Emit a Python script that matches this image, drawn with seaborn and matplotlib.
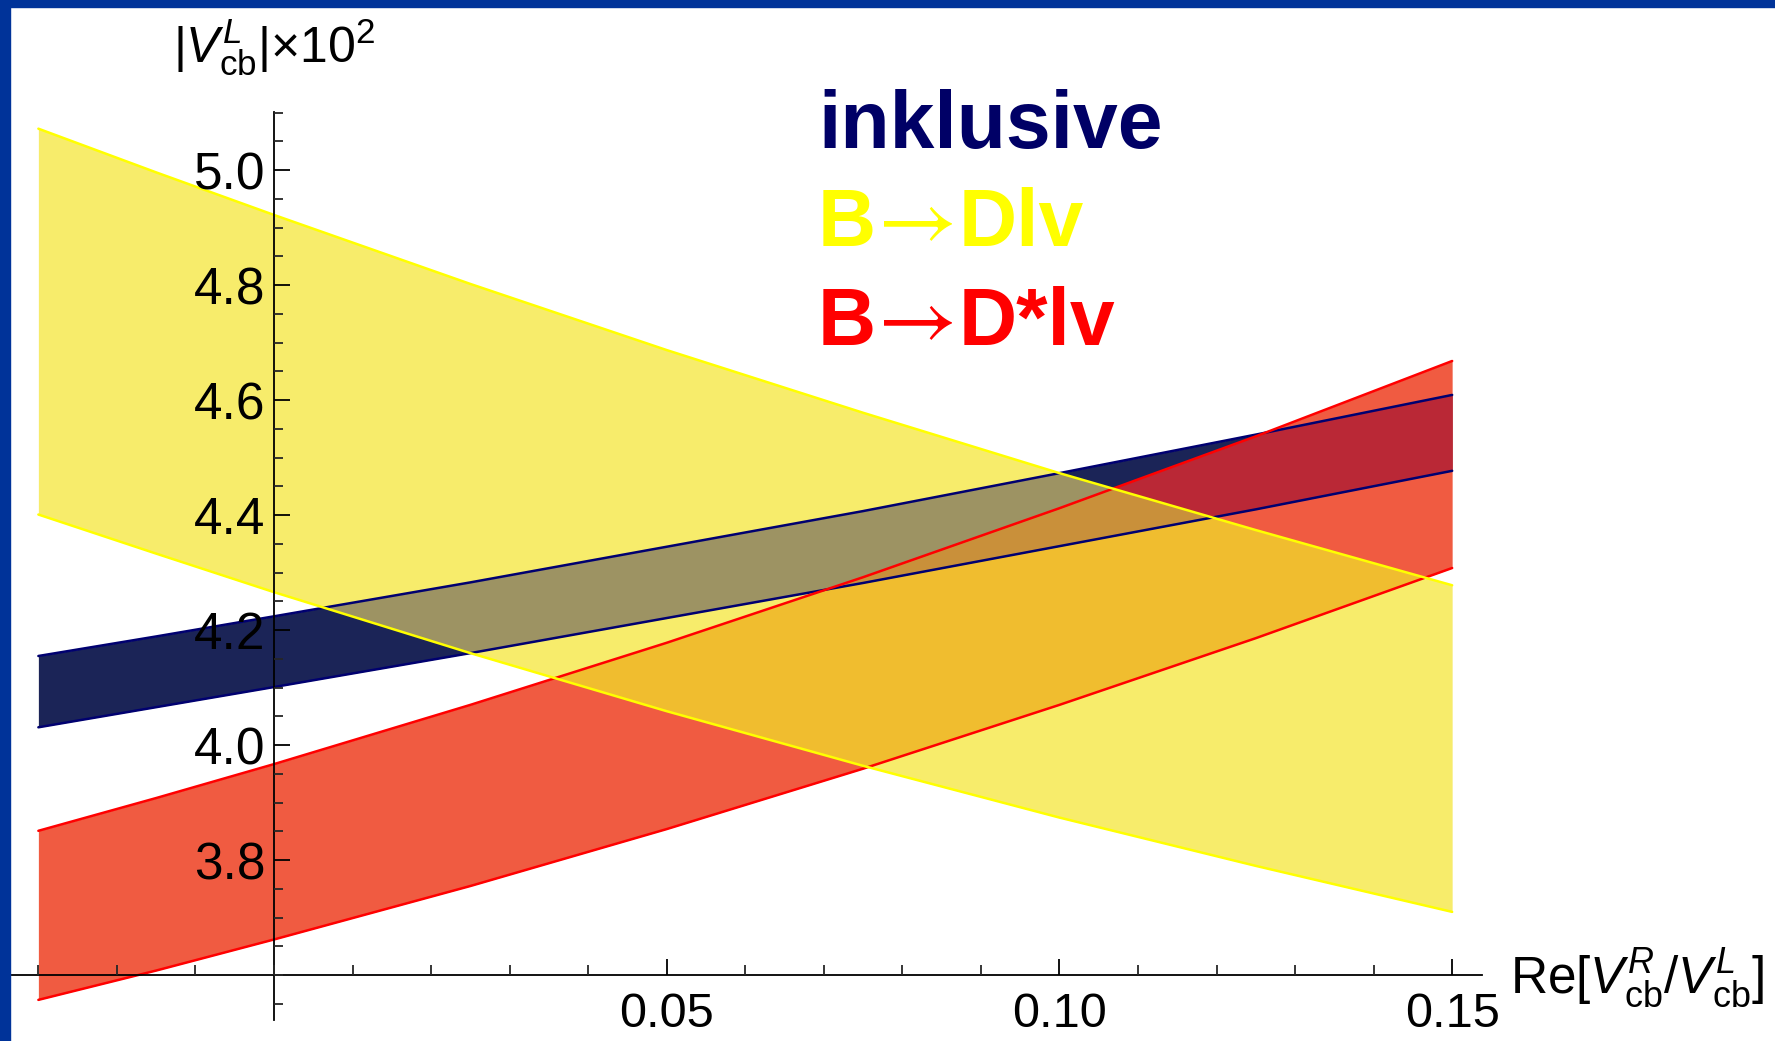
import matplotlib
matplotlib.use("Agg")
import matplotlib.pyplot as plt
import seaborn as sns
import numpy as np
import pandas as pd
from matplotlib.ticker import FixedLocator, FixedFormatter, MultipleLocator
from matplotlib.patches import Rectangle

# ---------------- data ----------------
x_vals = [-0.03, -0.015, 0.0, 0.025, 0.05, 0.075, 0.10, 0.125, 0.15]

incl_upper = [4.155, 4.189, 4.224, 4.283, 4.345, 4.407, 4.473, 4.540, 4.609]
incl_lower = [4.031, 4.066, 4.101, 4.160, 4.221, 4.282, 4.346, 4.410, 4.477]

dlv_upper = [5.072, 4.996, 4.922, 4.802, 4.687, 4.578, 4.473, 4.374, 4.278]
dlv_lower = [4.401, 4.333, 4.266, 4.160, 4.059, 3.964, 3.874, 3.790, 3.710]

dstar_upper = [3.851, 3.908, 3.967, 4.070, 4.178, 4.292, 4.412, 4.537, 4.668]
dstar_lower = [3.557, 3.608, 3.662, 3.755, 3.854, 3.959, 4.070, 4.186, 4.308]

y_major = [3.8, 4.0, 4.2, 4.4, 4.6, 4.8, 5.0]
y_labels = ["3.8", "4.0", "4.2", "4.4", "4.6", "4.8", "5.0"]
x_major = [0.05, 0.10, 0.15]
x_labels = ["0.05", "0.10", "0.15"]

# legend rows split as (bold part, arrow, bold part)
legend_rows = [("inklusive", "", ""), ("B", "\u2192", "Dlv"), ("B", "\u2192", "D*lv")]

# ---------------- style ----------------
sns.set_theme(style="white")
plt.rcParams["font.family"] = ["Liberation Sans", "DejaVu Sans"]
plt.rcParams["mathtext.fontset"] = "custom"
plt.rcParams["mathtext.rm"] = "Liberation Sans"
plt.rcParams["mathtext.it"] = "Liberation Sans:italic"
plt.rcParams["mathtext.bf"] = "Liberation Sans:bold"

C_NAVY = "#1b2457"
C_RED = "#f05b41"
C_YEL = "#f7ec6b"
C_NAVY_YEL = "#9d9363"
C_RED_YEL = "#f0bd2f"
C_NAVY_RED = "#ba2836"
C_ALL = "#c9903a"
E_NAVY = "#000070"
E_RED = "#ff0000"
E_YEL = "#ffff00"

W, H = 1775, 1041
fig = plt.figure(figsize=(W / 100, H / 100), dpi=100)
fig.patch.set_facecolor("white")

xlo, xhi = -0.0336, 0.1538
ylo, yhi = 3.522, 5.101
left_px, right_px = 10.1, 1482.0
top_px, bot_px = 112.0, 1020.0
ax = fig.add_axes([left_px / W, 1 - bot_px / H, (right_px - left_px) / W, (bot_px - top_px) / H])
ax.set_facecolor("none")
ax.set_xlim(xlo, xhi)
ax.set_ylim(ylo, yhi)

# ---- fills: each band, then their overlaps painted with blended colours ----
xd = np.linspace(x_vals[0], x_vals[-1], 1441)
nu, nl = np.interp(xd, x_vals, incl_upper), np.interp(xd, x_vals, incl_lower)
yu, yl = np.interp(xd, x_vals, dlv_upper), np.interp(xd, x_vals, dlv_lower)
ru, rl = np.interp(xd, x_vals, dstar_upper), np.interp(xd, x_vals, dstar_lower)

ax.fill_between(xd, nl, nu, color=C_NAVY, lw=0, zorder=1)
ax.fill_between(xd, rl, ru, color=C_RED, lw=0, zorder=1.1)
ax.fill_between(xd, yl, yu, color=C_YEL, lw=0, zorder=1.2)


def overlap(bands, col, z):
    lo = np.max([b[0] for b in bands], axis=0)
    hi = np.min([b[1] for b in bands], axis=0)
    ax.fill_between(xd, lo, hi, where=hi > lo, interpolate=True, color=col, lw=0, zorder=z)


overlap([(nl, nu), (yl, yu)], C_NAVY_YEL, 1.3)
overlap([(rl, ru), (yl, yu)], C_RED_YEL, 1.4)
overlap([(nl, nu), (rl, ru)], C_NAVY_RED, 1.5)
overlap([(nl, nu), (rl, ru), (yl, yu)], C_ALL, 1.6)

# ---- edges via seaborn ----
edges = [
    (incl_upper, E_NAVY), (incl_lower, E_NAVY),
    (dstar_upper, E_RED), (dstar_lower, E_RED),
    (dlv_upper, E_YEL), (dlv_lower, E_YEL),
]
for i, (vals, col) in enumerate(edges):
    df = pd.DataFrame({"x": x_vals, "v": vals})
    sns.lineplot(data=df, x="x", y="v", ax=ax, color=col, lw=1.8, sort=False,
                 estimator=None, zorder=4 + i * 0.1, legend=False)

ax.set_xlabel("")
ax.set_ylabel("")

# ---- axes through (0, 3.6) ----
for s in ["top", "right"]:
    ax.spines[s].set_visible(False)
ax.spines["left"].set_position(("data", 0.0))
ax.spines["bottom"].set_position(("data", 3.6))
for s in ["left", "bottom"]:
    ax.spines[s].set_color("black")
    ax.spines[s].set_linewidth(1.3)
    ax.spines[s].set_zorder(20)
ax.xaxis.set_zorder(25)
ax.yaxis.set_zorder(25)

ax.yaxis.set_major_locator(FixedLocator(y_major))
ax.yaxis.set_major_formatter(FixedFormatter(y_labels))
ax.yaxis.set_minor_locator(MultipleLocator(0.05))
ax.xaxis.set_major_locator(FixedLocator(x_major))
ax.xaxis.set_major_formatter(FixedFormatter(x_labels))
ax.xaxis.set_minor_locator(MultipleLocator(0.01))

ax.tick_params(axis="y", which="major", direction="in", length=11.5, width=1.3,
               labelsize=37, pad=6, colors="black", left=True)
ax.tick_params(axis="y", which="minor", direction="in", length=6.3, width=1.3, left=True)
ax.tick_params(axis="x", which="major", direction="in", length=11.3, width=1.3,
               labelsize=35, pad=12, colors="black", bottom=True)
ax.tick_params(axis="x", which="minor", direction="in", length=7.2, width=1.3, bottom=True)

# ---- axis labels ----
fig.text(274 / W, 1 - 47 / H, r"$|V_{\mathrm{cb}}^{L}|{\times}10^{2}$", fontsize=36,
         ha="center", va="center", color="black")
fig.text(1510 / W, 1 - 978 / H, r"$\mathrm{Re}[V_{\mathrm{cb}}^{R}/V_{\mathrm{cb}}^{L}]$",
         fontsize=37, ha="left", va="center", color="black")

# ---- legend-like coloured labels, laid out piece by piece ----
renderer = fig.canvas.get_renderer()
leg_cols = ["#000066", "#ffff00", "#ff0000"]
leg_base = [148, 246, 345]
x_start = 818
for (p1, arrow, p2), col, yb in zip(legend_rows, leg_cols, leg_base):
    yfig = 1 - yb / H
    t1 = fig.text(x_start / W, yfig, p1, fontsize=58, fontweight="bold", color=col,
                  ha="left", va="baseline")
    if not arrow:
        continue
    x1 = t1.get_window_extent(renderer).x1
    ta = fig.text((x1 + 42) / W, yfig, arrow, fontsize=58, fontweight="normal",
                  color=col, family="STIXGeneral", ha="center", va="baseline")
    wa = ta.get_window_extent(renderer).width
    ta.set_fontsize(58 * 80.0 / wa)
    fig.text((x1 + 82) / W, yfig, p2, fontsize=58, fontweight="bold", color=col,
             ha="left", va="baseline")

# ---- slide frame (top and left blue strips) ----
fig.patches.append(Rectangle((0, 1 - 7 / H), 1, 7 / H, transform=fig.transFigure,
                             color="#003399", zorder=50))
fig.patches.append(Rectangle((0, 0), 10 / W, 1, transform=fig.transFigure,
                             color="#003399", zorder=50))

fig.savefig("out.png", dpi=100, facecolor="white")
